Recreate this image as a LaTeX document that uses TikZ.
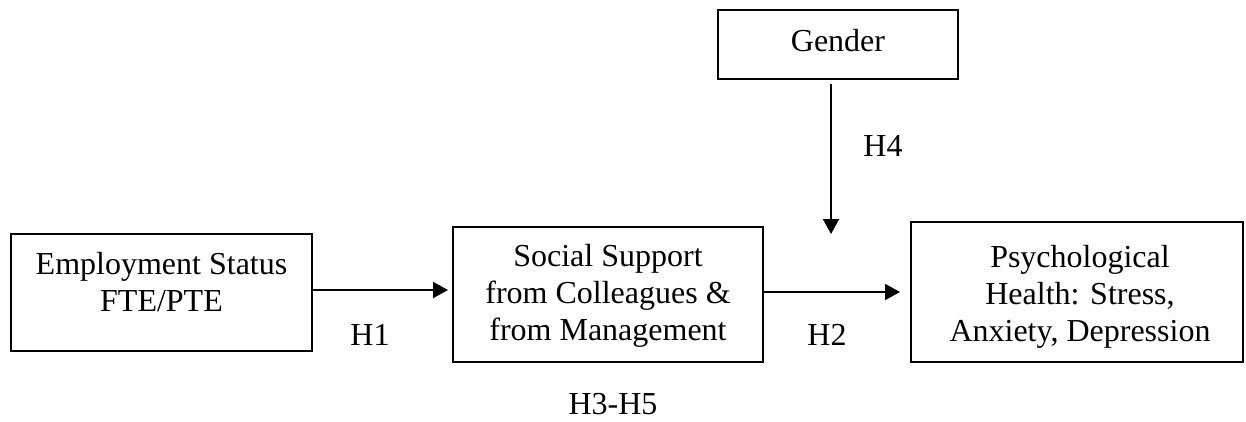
\documentclass[tikz,border=0pt]{standalone}
\usepackage{fontspec}
\setmainfont{Liberation Serif}
\usetikzlibrary{arrows.meta}
\begin{document}
\begin{tikzpicture}[x=1pt,y=-1pt,
  box/.style={draw,line width=2pt,rectangle,inner sep=0pt},
  txt/.style={align=center,inner sep=0pt,anchor=base,font=\fontsize{32}{36.8}\selectfont},
  arr/.style={line width=2pt,-{Triangle[length=15pt,width=16pt]}}]
\useasboundingbox (0,0) rectangle (1246,421);
% boxes
\node[box,minimum width=301pt,minimum height=117pt] (emp) at (161.5,292.5) {};
\node[box,minimum width=310pt,minimum height=135pt] (soc) at (608,294.5) {};
\node[box,minimum width=332pt,minimum height=140pt] (psy) at (1077,292) {};
\node[box,minimum width=240pt,minimum height=69pt] (gen) at (838,44.5) {};
% texts (anchor = baseline of the last line)
\node[txt] (empt) at (161.5,311.7) {Employment Status\\FTE/PTE};
\node[txt] (soct) at (608,340.5) {Social Support\\from Colleagues \&\\from Management};
\node[txt] (psyt) at (1080,341.5) {Psychological\\Health: Stress,\\Anxiety, Depression};
\node[txt] (gent) at (838,51.7) {Gender};
\node[txt] (h1) at (370,345) {H1};
\node[txt] (h2) at (827,345) {H2};
\node[txt] (h35) at (613,414) {H3-H5};
\node[txt] (h4) at (883,156) {H4};
% connectors
\coordinate (mod) at (831,234);
\draw[arr] (emp.east |- 0,290) -- ([xshift=-4pt]soc.west |- 0,290);
\draw[arr] (soc.east |- 0,292) -- ([xshift=-10pt]psy.west |- 0,292);
\draw[arr] ([yshift=-4pt]gen.south -| mod) -- (mod);
\end{tikzpicture}
\end{document}
